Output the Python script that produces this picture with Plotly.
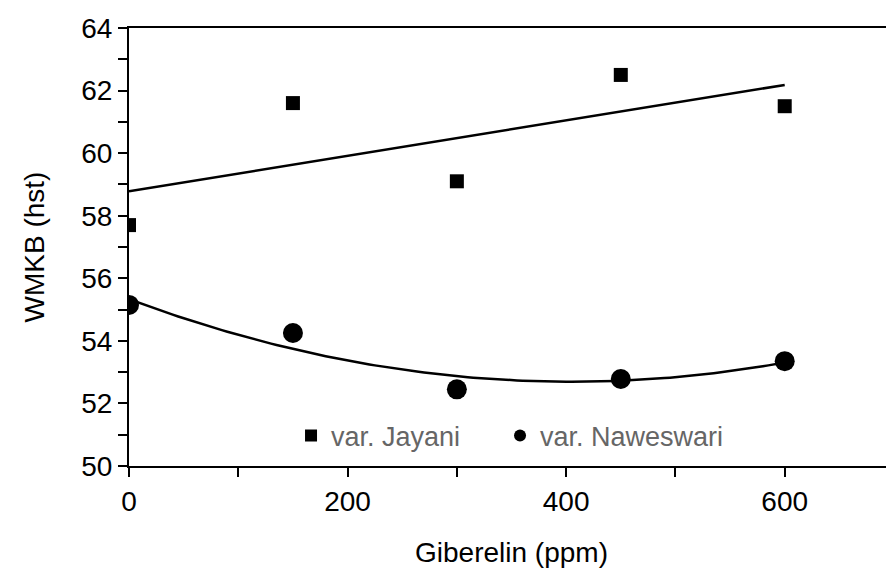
import numpy as np
import plotly.graph_objects as go

# Data
giberelin = [0, 150, 300, 450, 600]
jayani = [57.7, 61.6, 59.1, 62.5, 61.5]
naweswari = [55.15, 54.25, 52.45, 52.78, 53.35]

x_ticks = [0, 200, 400, 600]
y_ticks = [50, 52, 54, 56, 58, 60, 62, 64]

FONT = "Liberation Sans, Arial, sans-serif"

# Trend lines (linear for Jayani, quadratic for Naweswari)
xs = np.linspace(0, 600, 121)
lin = np.polyfit(giberelin, jayani, 1)
quad = np.polyfit(giberelin, naweswari, 2)

fig = go.Figure()
fig.add_trace(go.Scatter(x=xs, y=np.polyval(lin, xs), mode="lines",
                         line=dict(color="black", width=2.5), showlegend=False, hoverinfo="skip"))
fig.add_trace(go.Scatter(x=xs, y=np.polyval(quad, xs), mode="lines",
                         line=dict(color="black", width=2.5), showlegend=False, hoverinfo="skip"))
fig.add_trace(go.Scatter(x=giberelin, y=jayani, mode="markers", name="var. Jayani",
                         marker=dict(symbol="square", size=14, color="black"), legend="legend"))
fig.add_trace(go.Scatter(x=giberelin, y=naweswari, mode="markers", name="var. Naweswari",
                         marker=dict(symbol="circle", size=20, color="black"), legend="legend2"))

leg_common = dict(orientation="h", y=0.0685, xanchor="left", yanchor="middle",
                  font=dict(family=FONT, size=27, color="#666666"),
                  bgcolor="rgba(0,0,0,0)", itemsizing="constant", itemwidth=30)

fig.update_layout(
    width=894, height=571,
    margin=dict(l=121, r=8, t=20, b=113),
    paper_bgcolor="white", plot_bgcolor="white",
    font=dict(family=FONT, size=28, color="black"),
    legend=dict(x=0.2118, **leg_common),
    legend2=dict(x=0.485, **leg_common),
)
fig.update_xaxes(
    range=[0, 700], tickvals=x_ticks, ticktext=[str(v) for v in x_ticks],
    showgrid=False, zeroline=False, showline=True, linecolor="black", linewidth=2,
    mirror=True, ticks="outside", ticklen=9, tickwidth=1.5, tickcolor="black", automargin=False,
    minor=dict(dtick=100, tick0=0, ticks="outside", ticklen=9, tickwidth=1.5, tickcolor="black", showgrid=False),
    title=dict(text="Giberelin (ppm)", font=dict(size=28), standoff=27),
    tickfont=dict(size=28),
)
fig.update_yaxes(
    range=[50, 64], tickvals=y_ticks, ticktext=[str(v) for v in y_ticks],
    showgrid=False, zeroline=False, showline=True, linecolor="black", linewidth=2,
    ticks="outside", ticklen=9, tickwidth=1.5, tickcolor="black", automargin=False,
    minor=dict(dtick=1, tick0=50, ticks="outside", ticklen=9, tickwidth=1.5, tickcolor="black", showgrid=False),
    title=dict(text="WMKB (hst)", font=dict(size=28), standoff=28),
    tickfont=dict(size=28),
)

fig.write_html("out.html")
